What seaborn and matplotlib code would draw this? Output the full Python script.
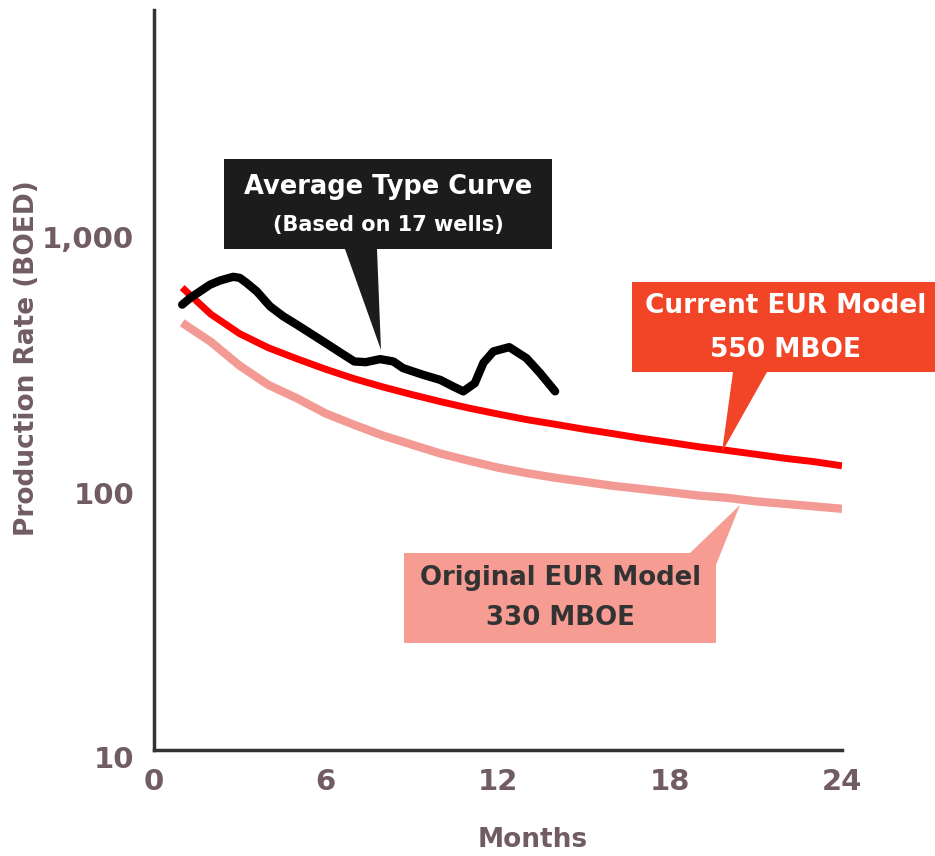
import numpy as np
import pandas as pd
import matplotlib
matplotlib.use("Agg")
import matplotlib.pyplot as plt
import matplotlib.transforms as mtransforms
import seaborn as sns
from matplotlib.patches import Polygon

# ---- data ----
months_model = list(range(1, 25))
current_eur = [635, 500, 420, 370, 335, 305, 280, 260, 243, 228, 215, 204,
               194, 186, 178, 171, 164, 158, 152, 147, 142, 137, 133, 128]
original_eur = [463, 390, 315, 265, 235, 205, 185, 168, 155, 143, 134, 126,
                120, 115, 111, 107, 104, 101, 98, 96, 93, 91, 89, 87]
months_type = [1, 1.28, 1.97, 2.32, 2.78, 3.01, 3.25, 3.6, 4.06, 4.52, 5.0,
               6.0, 6.5, 7.0, 7.4, 7.9, 8.36, 8.7, 9.4, 10.0, 10.45, 10.8,
               11.2, 11.5, 11.85, 12.4, 13.0, 13.47, 14.0]
avg_type = [545, 579, 652, 677, 700, 693, 662, 614, 537, 491, 455,
            386, 355, 327, 325, 334, 327, 308, 290, 277, 261, 250,
            269, 323, 358, 372, 337, 295, 250]
x_ticks = [0, 6, 12, 18, 24]
y_ticks = [10, 100, 1000]
y_tick_labels = ["10", "100", "1,000"]

W, H = 935, 856
sns.set_style("white")
plt.rcParams['font.family'] = ['DejaVu Sans']

fig = plt.figure(figsize=(W / 100, H / 100), dpi=100)
ax = fig.add_axes([153.5 / W, (H - 749.5) / H, (842 - 153.5) / W, (749.5 - 10) / H])

df_cur = pd.DataFrame({"m": months_model, "v": current_eur})
df_org = pd.DataFrame({"m": months_model, "v": original_eur})
df_typ = pd.DataFrame({"m": months_type, "v": avg_type})

sns.lineplot(data=df_org, x="m", y="v", ax=ax, color="#f39a94", lw=6,
             solid_capstyle="butt", solid_joinstyle="round", zorder=2)
sns.lineplot(data=df_cur, x="m", y="v", ax=ax, color="#ff0000", lw=5,
             solid_capstyle="butt", solid_joinstyle="round", zorder=3)
sns.lineplot(data=df_typ, x="m", y="v", ax=ax, color="#000000", lw=6,
             solid_capstyle="round", solid_joinstyle="round", zorder=4)

ax.set_yscale("log")
ax.set_xlim(0, 24)
ax.set_ylim(10, 7700)
ax.set_xticks(x_ticks)
ax.set_xticklabels([str(t) for t in x_ticks])
ax.set_yticks(y_ticks)
ax.set_yticklabels(y_tick_labels)
ax.yaxis.set_minor_locator(matplotlib.ticker.NullLocator())

lab_col = "#705c62"
ax.tick_params(axis="both", which="major", direction="out", length=6, width=1.5,
               color="#333333", labelcolor=lab_col, labelsize=21)
ax.tick_params(axis="x", pad=7)
ax.tick_params(axis="y", pad=8)
for lab in ax.get_xticklabels() + ax.get_yticklabels():
    lab.set_fontweight("bold")
# lowest y label sits slightly below its tick in the reference
ylabs = ax.get_yticklabels()
ylabs[0].set_transform(ylabs[0].get_transform() +
                       mtransforms.ScaledTranslation(0, -8 / 100, fig.dpi_scale_trans))

for s in ["top", "right"]:
    ax.spines[s].set_visible(False)
for s in ["left", "bottom"]:
    ax.spines[s].set_color("#333333")
    ax.spines[s].set_linewidth(2.5)

ax.set_xlabel("")
ax.set_ylabel("")
fig.text(27 / W, 1 - 358 / H, "Production Rate (BOED)", rotation=90,
         ha="center", va="center", fontsize=19, fontweight="bold", color=lab_col)
fig.text(533 / W, 1 - 840 / H, "Months", ha="center", va="center",
         fontsize=19, fontweight="bold", color=lab_col)


def px(pts):
    return [(x / W, 1 - y / H) for x, y in pts]


# Black callout
fig.patches.append(Polygon(px([(224, 159), (552, 159), (552, 249), (377, 249),
                               (381, 350), (345, 249), (224, 249)]),
                           closed=True, transform=fig.transFigure,
                           facecolor="#1c1c1c", edgecolor="none", zorder=5))
fig.text(388 / W, 1 - 187 / H, "Average Type Curve", ha="center", va="center",
         fontsize=18.5, fontweight="bold", color="white", zorder=6)
fig.text(388 / W, 1 - 225 / H, "(Based on 17 wells)", ha="center", va="center",
         fontsize=15, fontweight="bold", color="white", zorder=6)

# Red callout
fig.patches.append(Polygon(px([(632, 282), (935, 282), (935, 372), (767, 372),
                               (722, 452), (733, 372), (632, 372)]),
                           closed=True, transform=fig.transFigure,
                           facecolor="#f24426", edgecolor="none", zorder=5))
fig.text(786 / W, 1 - 306 / H, "Current EUR Model", ha="center", va="center",
         fontsize=19, fontweight="bold", color="white", zorder=6)
fig.text(786 / W, 1 - 350 / H, "550 MBOE", ha="center", va="center",
         fontsize=19, fontweight="bold", color="white", zorder=6)

# Pink callout
fig.patches.append(Polygon(px([(404, 553), (690, 553), (740, 505), (716, 565),
                               (716, 643), (404, 643)]),
                           closed=True, transform=fig.transFigure,
                           facecolor="#f69c93", edgecolor="none", zorder=5))
fig.text(560 / W, 1 - 578 / H, "Original EUR Model", ha="center", va="center",
         fontsize=18.7, fontweight="bold", color="#333333", zorder=6)
fig.text(560 / W, 1 - 618 / H, "330 MBOE", ha="center", va="center",
         fontsize=18.7, fontweight="bold", color="#333333", zorder=6)

fig.savefig("out.png", dpi=100)
